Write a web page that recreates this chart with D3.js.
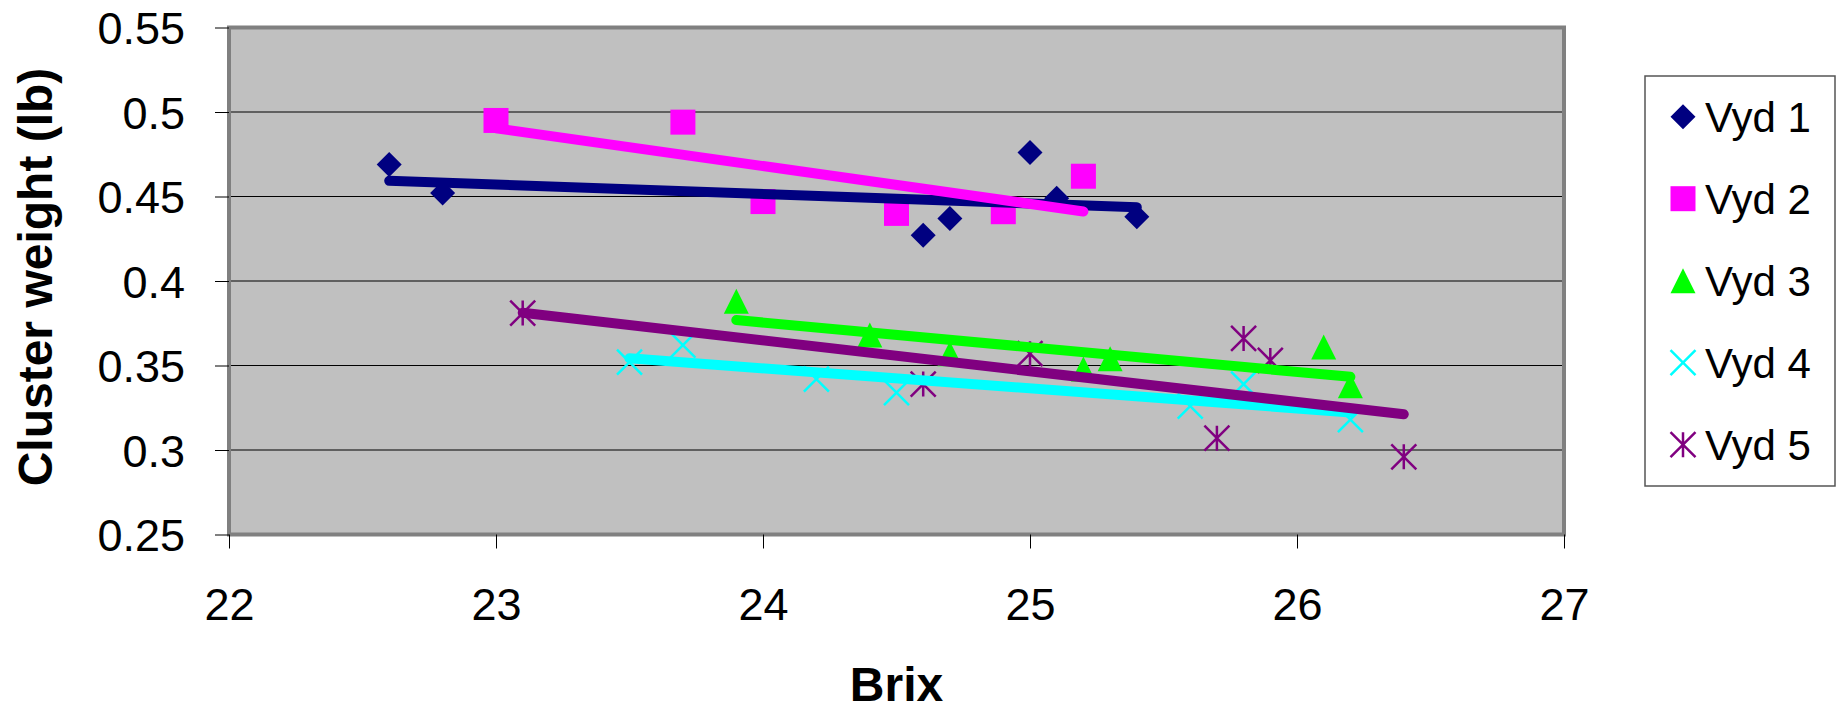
<!DOCTYPE html>
<html>
<head>
<meta charset="utf-8">
<script src="https://cdn.jsdelivr.net/npm/d3@7"></script>
<style>
    body { margin: 0; background: #fff; }
    #chart-area text { font-family: "Liberation Sans", Arial, sans-serif; fill: #000; }
</style>
</head>
<body>
<div id="chart-area"></div>
<script>
// readings: Brix vs cluster weight (lb), one pair of arrays per vineyard
const seriesNames = ["Vyd 1", "Vyd 2", "Vyd 3", "Vyd 4", "Vyd 5"];

const vyd1Brix   = [22.6, 22.8, 24.6, 24.7, 25.0, 25.1, 25.4];
const vyd1Weight = [0.469, 0.452, 0.427, 0.437, 0.476, 0.449, 0.438];

const vyd2Brix   = [23.0, 23.7, 24.0, 24.5, 24.9, 25.2];
const vyd2Weight = [0.495, 0.494, 0.447, 0.440, 0.441, 0.462];

const vyd3Brix   = [23.9, 24.4, 24.7, 25.2, 25.3, 26.1, 26.2];
const vyd3Weight = [0.388, 0.368, 0.357, 0.348, 0.354, 0.361, 0.338];

const vyd4Brix   = [23.5, 23.7, 24.2, 24.5, 25.6, 25.8, 26.2];
const vyd4Weight = [0.352, 0.362, 0.342, 0.334, 0.326, 0.339, 0.318];

const vyd5Brix   = [23.1, 24.6, 25.0, 25.7, 25.8, 25.9, 26.4];
const vyd5Weight = [0.381, 0.339, 0.357, 0.307, 0.366, 0.353, 0.296];

const xTicks = [22, 23, 24, 25, 26, 27];
const yTicks = [0.25, 0.3, 0.35, 0.4, 0.45, 0.5, 0.55];


class BrixScatter {
    constructor(parentElement) {
        this.parentElement = parentElement;
        this.initVis();
    }

    initVis() {
        let vis = this;
        vis.margin = {top: 27.5, right: 275, bottom: 177.5, left: 229};
        vis.width = 1839 - vis.margin.left - vis.margin.right;
        vis.height = 712 - vis.margin.top - vis.margin.bottom;

        vis.root = d3.select("#" + vis.parentElement).append("svg")
            .attr("width", 1839)
            .attr("height", 712);

        vis.svg = vis.root.append("g")
            .attr("transform", "translate(" + vis.margin.left + "," + vis.margin.top + ")");

        vis.colors = ["#000080", "#FF00FF", "#00FF00", "#00FFFF", "#800080"];
        vis.shapes = ["diamond", "square", "triangle", "cross", "star"];

        // Scales and axes
        vis.x = d3.scaleLinear().domain([22, 27]).range([0, vis.width]);
        vis.y = d3.scaleLinear().domain([0.25, 0.55]).range([vis.height, 0]);

        vis.xAxis = d3.axisBottom(vis.x)
            .tickValues(xTicks)
            .tickSizeInner(14)
            .tickSizeOuter(0)
            .tickPadding(40)
            .tickFormat(d => d);
        vis.yAxis = d3.axisLeft(vis.y)
            .tickValues(yTicks)
            .tickSizeInner(14)
            .tickSizeOuter(0)
            .tickPadding(30)
            .tickFormat(d => d);

        // plot background
        vis.svg.append("rect")
            .attr("width", vis.width)
            .attr("height", vis.height)
            .attr("fill", "#C0C0C0");

        // gridlines
        vis.svg.selectAll(".grid")
            .data(yTicks.slice(1, -1))
            .enter()
            .append("line")
            .attr("class", "grid")
            .attr("x1", 0)
            .attr("x2", vis.width)
            .attr("y1", d => vis.y(d))
            .attr("y2", d => vis.y(d))
            .attr("stroke", "#000")
            .attr("stroke-width", 1);

        vis.markerLayer = vis.svg.append("g");
        vis.lineLayer = vis.svg.append("g");

        // frame
        vis.svg.append("rect")
            .attr("width", vis.width)
            .attr("height", vis.height)
            .attr("fill", "none")
            .attr("stroke", "#808080")
            .attr("stroke-width", 4);

        vis.svg.append("g")
            .attr("class", "x-axis axis")
            .attr("transform", "translate(0," + vis.height + ")");
        vis.svg.append("g")
            .attr("class", "y-axis axis");

        // Axis titles
        vis.root.append("text")
            .attr("transform", "translate(52,277) rotate(-90)")
            .attr("text-anchor", "middle")
            .attr("font-size", 48)
            .attr("font-weight", "bold")
            .text("Cluster weight (lb)");

        vis.root.append("text")
            .attr("x", vis.margin.left + vis.width / 2)
            .attr("y", 701)
            .attr("text-anchor", "middle")
            .attr("font-size", 48)
            .attr("font-weight", "bold")
            .text("Brix");

        vis.legend = vis.root.append("g")
            .attr("transform", "translate(1645,76)");

        vis.wrangleData();
    }

    wrangleData() {
        let vis = this;
        let brix = [vyd1Brix, vyd2Brix, vyd3Brix, vyd4Brix, vyd5Brix];
        let weight = [vyd1Weight, vyd2Weight, vyd3Weight, vyd4Weight, vyd5Weight];

        vis.series = seriesNames.map((name, i) => {
            let pts = brix[i].map((b, j) => ({brix: b, weight: weight[i][j]}));
            return {name: name, index: i, points: pts, trend: vis.fitLine(pts)};
        });

        vis.updateVis();
    }

    // least squares trendline over the series' own x range
    fitLine(pts) {
        let n = pts.length;
        let mx = d3.mean(pts, d => d.brix);
        let my = d3.mean(pts, d => d.weight);
        let sxy = 0, sxx = 0;
        for (let i = 0; i < n; i++) {
            sxy += (pts[i].brix - mx) * (pts[i].weight - my);
            sxx += (pts[i].brix - mx) * (pts[i].brix - mx);
        }
        let slope = sxy / sxx;
        let ext = d3.extent(pts, d => d.brix);
        return ext.map(b => ({brix: b, weight: my + slope * (b - mx)}));
    }

    symbolPath(shape) {
        let r = 12.5;
        if (shape === "diamond") return `M0,${-r}L${r},0L0,${r}L${-r},0Z`;
        if (shape === "square") return `M${-r},${-r}H${r}V${r}H${-r}Z`;
        if (shape === "triangle") return `M0,${-r}L${r},${r}L${-r},${r}Z`;
        if (shape === "cross") return `M${-r},${-r}L${r},${r}M${r},${-r}L${-r},${r}`;
        return `M${-r},${-r}L${r},${r}M${r},${-r}L${-r},${r}M0,${-r}V${r}`;
    }

    drawMarker(sel, i) {
        let vis = this;
        let filled = i < 3;
        sel.attr("d", vis.symbolPath(vis.shapes[i]))
            .attr("fill", filled ? vis.colors[i] : "none")
            .attr("stroke", filled ? "none" : vis.colors[i])
            .attr("stroke-width", filled ? 0 : 2.5);
    }

    updateVis() {
        let vis = this;

        vis.series.forEach(s => {
            vis.markerLayer.selectAll(".pt" + s.index)
                .data(s.points)
                .enter()
                .append("path")
                .attr("class", "pt" + s.index)
                .attr("transform", d => "translate(" + vis.x(d.brix) + "," + vis.y(d.weight) + ")")
                .call(sel => vis.drawMarker(sel, s.index));
        });

        let line = d3.line()
            .x(d => vis.x(d.brix))
            .y(d => vis.y(d.weight));

        vis.lineLayer.selectAll(".trend")
            .data(vis.series)
            .enter()
            .append("path")
            .attr("class", "trend")
            .attr("d", d => line(d.trend))
            .attr("fill", "none")
            .attr("stroke", d => vis.colors[d.index])
            .attr("stroke-width", 10)
            .attr("stroke-linecap", "round");

        vis.svg.select(".x-axis").call(vis.xAxis);
        vis.svg.select(".y-axis").call(vis.yAxis);
        vis.svg.selectAll(".axis .domain").remove();
        vis.svg.selectAll(".axis line").attr("stroke", "#000");
        vis.svg.selectAll(".axis text")
            .attr("font-size", 45)
            .attr("font-family", null);
        vis.svg.selectAll(".y-axis text").attr("dy", "0.36em");

        // legend
        vis.legend.append("rect")
            .attr("width", 190)
            .attr("height", 410)
            .attr("fill", "#fff")
            .attr("stroke", "#555")
            .attr("stroke-width", 1.5);

        let entries = vis.legend.selectAll(".entry")
            .data(vis.series)
            .enter()
            .append("g")
            .attr("class", "entry")
            .attr("transform", d => "translate(38," + (40.7 + d.index * 82) + ")");

        entries.append("path")
            .each(function (d) { vis.drawMarker(d3.select(this), d.index); });

        entries.append("text")
            .attr("x", 22)
            .attr("y", 15)
            .attr("font-size", 42)
            .text(d => d.name);
    }
}

new BrixScatter("chart-area");
</script>
</body>
</html>
